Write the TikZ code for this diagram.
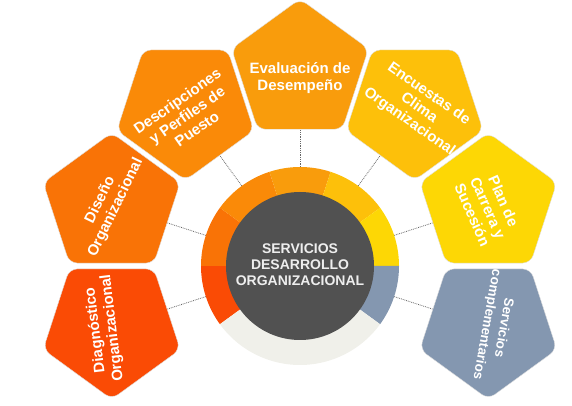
\documentclass[tikz,border=0pt]{standalone}
\usepackage{fontspec}
\setmainfont{Liberation Sans}
\usetikzlibrary{calc}
\definecolor{cdiag}{HTML}{FA4B05}
\definecolor{cdise}{HTML}{F97306}
\definecolor{cdesc}{HTML}{FA8A08}
\definecolor{ceval}{HTML}{F99C0C}
\definecolor{cencu}{HTML}{FDC00A}
\definecolor{cplan}{HTML}{FDD705}
\definecolor{cserv}{HTML}{8497B0}
\definecolor{cring}{HTML}{F0F0EA}
\definecolor{cdark}{HTML}{515151}
\definecolor{ctxt}{HTML}{EEEEEE}
\tikzset{
  conn/.style={densely dotted, black!60, line width=0.8pt},
  pentabox/.style={rounded corners=8pt, draw=black!12, line width=0.4pt},
  ptext/.style={text=white, align=center},
}
% name, angle, distance, colour, text rotation, font size, text position, text
\newcommand\mypenta[8]{%
  \coordinate (#1) at ($(C)+(#2:#3)$);
  \begin{scope}[shift={(#1)}]
    \filldraw[pentabox, fill=#4] (#2:72) -- (#2+72:72) -- (#2+144:72) -- (#2+216:72) -- (#2+288:72) -- cycle;
  \end{scope}
  \node[ptext, rotate=#5, font=\bfseries\fontsize{#6pt}{17pt}\selectfont] (#1t) at #7 {#8};}
\newcommand\myseg[3]{%
  \fill[#3] (C) -- ++(#1:99) arc[start angle=#1, end angle=#2, radius=99] -- cycle;}
\begin{document}
\begin{tikzpicture}[x=1pt,y=1pt]
\useasboundingbox (0,0) rectangle (572,406);
\coordinate (C) at (300,140);
% connectors (behind)
\foreach \a/\d/\n in {198/198/q1,162/198/q2,126/195/q3,90/195/q4,54/195/q5,18/198/q6,-18/198/q7}{
  \coordinate (\n) at ($(C)+(\a:\d)$);
  \draw[conn] (C) -- (\n);
}
% pentagons
\mypenta{p1}{198}{198}{cdiag}{97}{15}{(104,77)}{Diagnóstico\\Organizacional}
\mypenta{p2}{162}{198}{cdise}{64}{15}{(108,202)}{Diseño\\Organizacional}
\mypenta{p3}{126}{195}{cdesc}{35}{15}{(187,291)}{Descripciones\\y Perfiles de\\Puesto}
\mypenta{p4}{90}{195}{ceval}{0}{15}{(300,327.5)}{Evaluación de\\Desempeño}
\mypenta{p5}{54}{195}{cencu}{-35}{15}{(419,298)}{Encuestas de\\Clima\\Organizacional}
\mypenta{p6}{18}{198}{cplan}{-66}{15}{(488,198)}{Plan de\\Carrera y\\Sucesión}
\mypenta{p7}{-18}{198}{cserv}{-100}{13.5}{(495,80)}{Servicios\\complementarios}
% ring
\myseg{180}{216}{cdiag}
\myseg{144}{180}{cdise}
\myseg{108}{144}{cdesc}
\myseg{72}{108}{ceval}
\myseg{36}{72}{cencu}
\myseg{0}{36}{cplan}
\myseg{-36}{0}{cserv}
\myseg{216}{324}{cring}
\node[circle, fill=cdark, minimum size=148pt, inner sep=0pt] (hub) at (C) {};
\node[text=ctxt, align=center, font=\bfseries\fontsize{14pt}{16pt}\selectfont] (hubt) at ($(C)+(0,1)$) {SERVICIOS\\DESARROLLO\\ORGANIZACIONAL};
\end{tikzpicture}
\end{document}
